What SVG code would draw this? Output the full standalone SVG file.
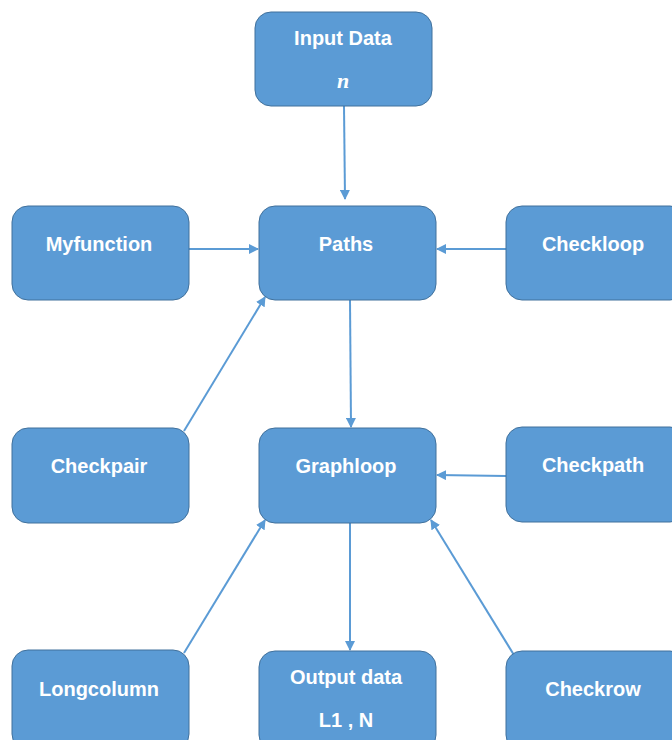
<svg xmlns="http://www.w3.org/2000/svg" width="672" height="740" viewBox="0 0 672 740">
<style>
.box{fill:#5B9BD5;stroke:#41719C;stroke-width:1}
.lbl{font-family:"Liberation Sans",Arial,sans-serif;font-weight:bold;font-size:20px;fill:#FFFFFF;text-anchor:middle}
.it{font-family:"Liberation Serif","Times New Roman",serif;font-style:italic;font-weight:bold;font-size:22px;fill:#FFFFFF;text-anchor:middle}
.conn line{stroke:#5B9BD5;stroke-width:2;fill:none;marker-end:url(#ah)}
</style>
<defs>
<marker id="ah" viewBox="0 0 10 10" refX="9" refY="5" markerWidth="5" markerHeight="5" orient="auto" markerUnits="strokeWidth">
<path d="M0,0 L10,5 L0,10 z" fill="#5B9BD5"/>
</marker>
</defs>
<rect width="672" height="740" fill="#FFFFFF"/>
<g id="connectors" class="conn">
<line x1="344" y1="106" x2="345" y2="199"/>
<line x1="189" y1="249" x2="258" y2="249"/>
<line x1="506" y1="249" x2="437" y2="249"/>
<line x1="184" y1="431" x2="265" y2="297"/>
<line x1="350" y1="300" x2="351" y2="427"/>
<line x1="506" y1="476" x2="437" y2="475"/>
<line x1="184" y1="653" x2="265" y2="520"/>
<line x1="350" y1="523" x2="350" y2="650"/>
<line x1="514" y1="655" x2="431" y2="520"/>
</g>
<g id="input-data"><rect class="box" x="255" y="12" width="177" height="94" rx="16"/><text class="lbl" x="343" y="45">Input Data</text><text class="it" x="343" y="88">n</text></g>
<g id="paths"><rect class="box" x="259" y="206" width="177" height="94" rx="16"/><text class="lbl" x="346" y="251">Paths</text></g>
<g id="myfunction"><rect class="box" x="12" y="206" width="177" height="94" rx="16"/><text class="lbl" x="99" y="251">Myfunction</text></g>
<g id="checkloop"><rect class="box" x="506" y="206" width="180" height="94" rx="16"/><text class="lbl" x="593" y="251">Checkloop</text></g>
<g id="checkpair"><rect class="box" x="12" y="428" width="177" height="95" rx="16"/><text class="lbl" x="99" y="473">Checkpair</text></g>
<g id="graphloop"><rect class="box" x="259" y="428" width="177" height="95" rx="16"/><text class="lbl" x="346" y="473">Graphloop</text></g>
<g id="checkpath"><rect class="box" x="506" y="427" width="180" height="95" rx="16"/><text class="lbl" x="593" y="472">Checkpath</text></g>
<g id="longcolumn"><rect class="box" x="12" y="650" width="177" height="100" rx="16"/><text class="lbl" x="99" y="696">Longcolumn</text></g>
<g id="output-data"><rect class="box" x="259" y="651" width="177" height="100" rx="16"/><text class="lbl" x="346" y="684">Output data</text><text class="lbl" x="346" y="727">L1 , N</text></g>
<g id="checkrow"><rect class="box" x="506" y="651" width="180" height="100" rx="16"/><text class="lbl" x="593" y="696">Checkrow</text></g>
</svg>
